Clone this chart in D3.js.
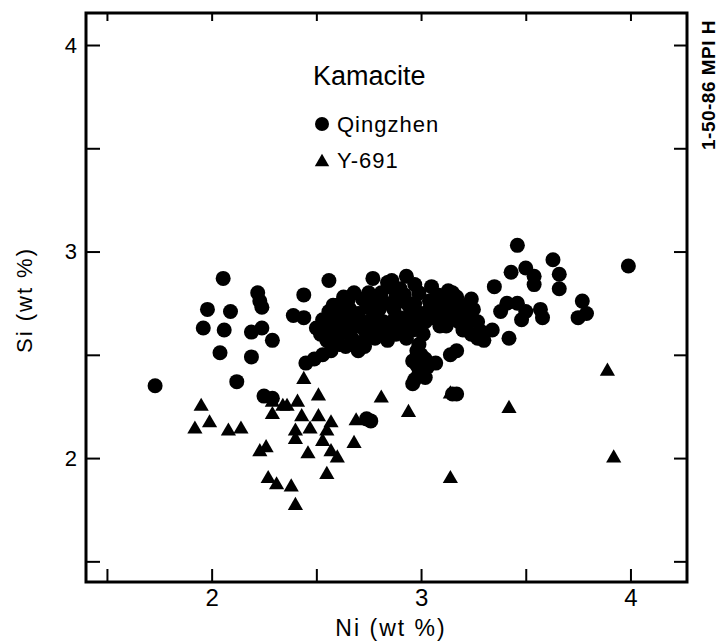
<!DOCTYPE html>
<html>
<head>
<meta charset="utf-8">
<script src="https://cdn.jsdelivr.net/npm/d3@7"></script>
<style>
body{margin:0;background:#fff;}
svg{font-family:"Liberation Sans",Arial,sans-serif;}
</style>
</head>
<body>
<div id="chart"></div>
<script>
// Qingzhen kamacite (Ni, Si wt %)
var qingzhen = [
	[2.055,2.87],[1.98,2.72],[2.09,2.71],[1.96,2.63],[2.06,2.62],[2.04,2.51],[2.19,2.49],[2.29,2.57],
	[2.22,2.80],[2.23,2.76],[2.24,2.73],[2.19,2.61],[2.24,2.63],[1.73,2.35],[2.12,2.37],[2.56,2.86],
	[2.44,2.79],[2.39,2.69],[2.44,2.68],[2.77,2.87],[2.84,2.85],[2.25,2.30],[2.29,2.29],[2.74,2.19],[2.76,2.18],
	[3.46,3.03],[3.43,2.90],[3.50,2.92],[3.54,2.88],[3.54,2.84],[3.63,2.96],[3.66,2.89],[3.66,2.82],
	[3.99,2.93],[3.77,2.76],[3.79,2.70],[3.75,2.68],[3.35,2.83],[3.41,2.75],[3.38,2.71],[3.46,2.75],
	[3.50,2.71],[3.57,2.72],[3.58,2.68],[3.48,2.67],[3.34,2.62],[3.42,2.58],[3.17,2.52],[3.14,2.50],
	[3.07,2.46],[3.17,2.31],[3.15,2.31],[2.86,2.86],[2.93,2.88],
	// dense cluster
	[2.45,2.46],[2.49,2.48],[2.53,2.50],[2.57,2.52],[2.61,2.55],
	[2.50,2.63],[2.53,2.67],[2.56,2.71],[2.58,2.66],[2.52,2.60],[2.60,2.74],[2.55,2.62],
	[2.63,2.78],[2.68,2.80],[2.72,2.77],[2.66,2.72],[2.70,2.70],[2.74,2.73],[2.78,2.76],[2.64,2.66],
	[2.69,2.64],[2.73,2.62],[2.77,2.68],[2.80,2.72],[2.82,2.66],[2.67,2.58],[2.71,2.56],[2.75,2.60],
	[2.79,2.62],[2.84,2.62],[2.70,2.52],[2.73,2.54],[2.62,2.69],[2.61,2.60],
	[2.83,2.75],[2.87,2.72],[2.90,2.68],[2.86,2.66],[2.92,2.63],[2.88,2.60],[2.84,2.57],[2.95,2.70],
	[2.90,2.76],[2.93,2.58],[2.85,2.83],[2.90,2.82],[2.88,2.78],
	[2.97,2.84],[2.99,2.80],[2.97,2.75],[3.00,2.70],[2.98,2.65],[3.01,2.60],[2.99,2.55],[3.00,2.50],
	[2.98,2.45],[2.99,2.41],[2.97,2.38],[3.02,2.39],[3.03,2.44],[2.96,2.36],
	[3.05,2.83],[3.08,2.79],[3.12,2.76],[3.16,2.74],[3.20,2.71],[3.10,2.72],[3.06,2.68],[3.14,2.68],
	[3.18,2.66],[3.22,2.65],[3.09,2.64],[3.04,2.76],[3.13,2.81],[3.17,2.78],
	[3.25,2.72],[3.27,2.66],[3.29,2.61],[3.30,2.57],[3.24,2.77],
	[2.58,2.74],[2.62,2.73],[2.65,2.76],[2.60,2.64],[2.65,2.62],[2.68,2.68],[2.72,2.66],[2.76,2.64],
	[2.78,2.58],[2.81,2.60],[2.86,2.62],[2.90,2.64],[2.94,2.66],[2.96,2.62],[2.94,2.74],[2.92,2.79],
	[2.81,2.80],[2.75,2.80],[3.02,2.66],[3.04,2.72],[3.08,2.74],[3.11,2.68],[3.15,2.71],[3.19,2.74],
	[3.22,2.69],[3.12,2.64],[3.20,2.62],[3.24,2.60],[3.27,2.58],[3.10,2.78],[3.15,2.80],[2.98,2.52],
	[3.02,2.48],[2.96,2.47],[2.64,2.54],[2.68,2.56],[2.59,2.58],[2.55,2.57]
];
// Y-691 kamacite
var y691 = [
	[2.44,2.38],[2.51,2.30],[2.81,2.29],[1.95,2.25],[1.99,2.17],[1.92,2.14],[2.08,2.13],[2.14,2.14],
	[2.29,2.27],[2.34,2.25],[2.36,2.25],[2.41,2.27],[2.29,2.21],[2.43,2.20],[2.51,2.20],[2.57,2.17],
	[2.47,2.14],[2.40,2.13],[2.40,2.09],[2.55,2.13],[2.53,2.08],[2.68,2.07],[2.23,2.03],[2.26,2.05],
	[2.46,2.02],[2.57,2.03],[2.60,2.00],[2.55,1.92],[2.27,1.90],[2.31,1.87],[2.38,1.86],[2.40,1.77],
	[2.69,2.18],[2.94,2.22],[3.14,2.31],[3.42,2.24],[3.14,1.90],[3.89,2.42],[3.92,2.00]
];
var xTicks = [1.5,2,2.5,3,3.5,4];
var yTicks = [1.5,2,2.5,3,3.5,4];
var tickLabels = [2,3,4];

var width = 720, height = 643;
var plotL = 86, plotR = 687, plotT = 13, plotB = 582;

var svg = d3.select('#chart').append('svg')
	.attr('width',width)
	.attr('height',height);

var x = d3.scaleLinear().domain([1.4,4.27]).range([plotL,plotR]);
var y = d3.scaleLinear().domain([1.4,4.155]).range([plotB,plotT]);

function fmt(d){ return tickLabels.indexOf(d) >= 0 ? d : ''; }

// axes, ticks pointing inward
var gb = svg.append('g').attr('transform','translate(0,'+plotB+')')
	.call(d3.axisBottom(x).tickValues(xTicks).tickSize(-13).tickPadding(7).tickFormat(fmt));
var gt = svg.append('g').attr('transform','translate(0,'+plotT+')')
	.call(d3.axisTop(x).tickValues(xTicks).tickSize(-8).tickFormat(''));
var gl = svg.append('g').attr('transform','translate('+plotL+',0)')
	.call(d3.axisLeft(y).tickValues(yTicks).tickSize(-14).tickPadding(9).tickFormat(fmt));
var gr = svg.append('g').attr('transform','translate('+plotR+',0)')
	.call(d3.axisRight(y).tickValues(yTicks).tickSize(-13).tickFormat(''));

[gb,gt,gl,gr].forEach(function(g){
	g.select('.domain').remove();
	g.selectAll('.tick line').style('stroke','#000').style('stroke-width',2);
	g.selectAll('.tick text').style('fill','#000').style('font-family','Liberation Sans, Arial, sans-serif');
});
gb.selectAll('.tick text').style('font-size','24px');
gl.selectAll('.tick text').style('font-size','22px');

// frame
svg.append('rect')
	.attr('x',plotL).attr('y',plotT)
	.attr('width',plotR-plotL).attr('height',plotB-plotT)
	.style('fill','none').style('stroke','#000').style('stroke-width',3);

// axis titles
svg.append('text')
	.attr('x',391).attr('y',636)
	.attr('text-anchor','middle')
	.style('font-size','23px').style('letter-spacing','2px')
	.text('Ni (wt %)');
svg.append('text')
	.attr('transform','translate(32,300) rotate(-90)')
	.attr('text-anchor','middle')
	.style('font-size','22px').style('letter-spacing','2px')
	.text('Si (wt %)');
svg.append('text')
	.attr('transform','translate(715,150) rotate(-90)')
	.attr('text-anchor','start')
	.style('font-size','19px').style('font-weight','bold').style('letter-spacing','0.5px')
	.text('1-50-86 MPI H');

// points
svg.append('g').selectAll('circle').data(qingzhen).enter().append('circle')
	.attr('cx',function(d){return x(d[0]);})
	.attr('cy',function(d){return y(d[1]);})
	.attr('r',7.5)
	.style('fill','#000');

var tri = d3.symbol().type(d3.symbolTriangle).size(100);
svg.append('g').selectAll('path').data(y691).enter().append('path')
	.attr('d',tri)
	.attr('transform',function(d){return 'translate('+x(d[0])+','+y(d[1])+')';})
	.style('fill','#000');

// legend
svg.append('text').attr('x',313).attr('y',85)
	.style('font-size','27px').text('Kamacite');
svg.append('circle').attr('cx',322).attr('cy',124).attr('r',7).style('fill','#000');
svg.append('text').attr('x',337).attr('y',132)
	.style('font-size','22px').style('letter-spacing','1px').text('Qingzhen');
svg.append('path').attr('d',d3.symbol().type(d3.symbolTriangle).size(90))
	.attr('transform','translate(322,162)').style('fill','#000');
svg.append('text').attr('x',337).attr('y',168)
	.style('font-size','22px').style('letter-spacing','1px').text('Y-691');
</script>
</body>
</html>
